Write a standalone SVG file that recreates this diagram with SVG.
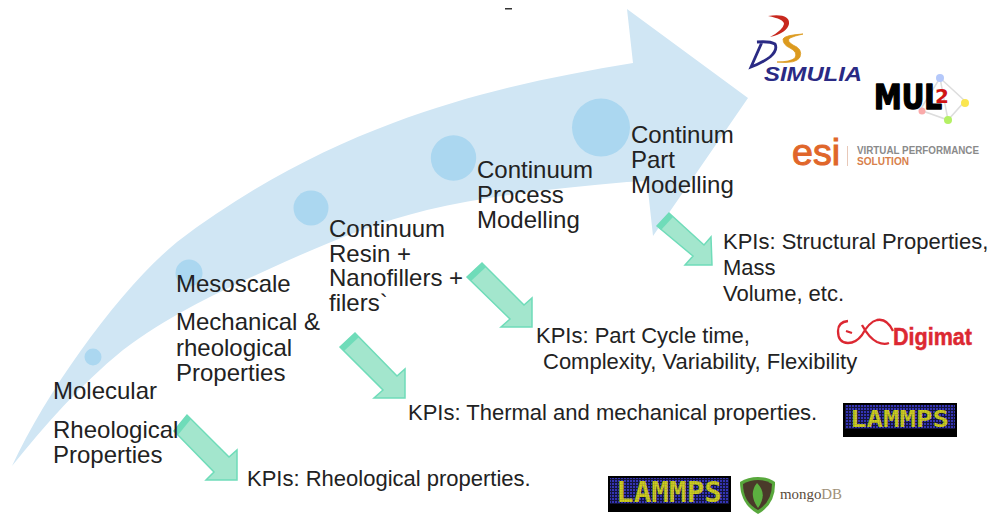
<svg xmlns="http://www.w3.org/2000/svg" width="992" height="514" viewBox="0 0 992 514">
<style>
.t{font-family:"Liberation Sans",Arial,sans-serif;font-size:24px;fill:#222}
.k{font-family:"Liberation Sans",Arial,sans-serif;font-size:22px;fill:#222}
.dot{fill:#abd7f0}
.ga{fill:#a3e6cd;stroke:#6fdcb9;stroke-width:1.5}
.band{fill:#6fdcb9}
.lt{font-family:"DejaVu Sans Mono","Liberation Mono",monospace;font-weight:bold;fill:url(#ledy)}
</style>
<defs>
<pattern id="led" width="3" height="3" patternUnits="userSpaceOnUse"><rect width="3" height="3" fill="#14143c"/><rect width="2" height="2" fill="#3434b4"/></pattern>
<pattern id="ledy" width="2.5" height="2.5" patternUnits="userSpaceOnUse"><rect width="2.5" height="2.5" fill="#a0a028"/><rect width="2" height="2" fill="#d2d21e"/></pattern>
</defs>
<rect width="992" height="514" fill="#fff"/>
<g id="connectors">
<path d="M12 466C50 385 122 287 177 242C245 190 320 150 393 123C473 93 553 76 633 63L627 9L748 98L653 236L647 181L627 182C560 188 490 195 427 210C370 224 315 248 267 270C215 294 170 315 123 350C80 385 45 425 12 466Z" fill="#d0e6f4"/>
<rect x="505" y="8" width="7" height="1.5" fill="#333"/>
<path class="ga" d="M174 431L187 415L229 457L237 450L237 480L206 480L214 472Z"/><path class="band" d="M174 431L187 415L191 419L178 435Z"/>
<path class="ga" d="M340 347L355 333L397 376L405 369L405 398L374 398L383 390Z"/><path class="band" d="M340 347L355 333L359 337L344 351Z"/>
<path class="ga" d="M467 277L482 263L524 305L532 298L532 327L501 327L510 319Z"/><path class="band" d="M467 277L482 263L486 267L471 281Z"/>
<path class="ga" d="M657 226L669 213L704 245L711 237L712 265L685 265L693 256Z"/><path class="band" d="M657 226L669 213L673 217L661 230Z"/>
</g>
<g id="node-molecular"><circle class="dot" cx="93" cy="357" r="8.5"/>
<text class="t" x="53" y="399">Molecular</text><text class="t" x="53" y="438">Rheological</text><text class="t" x="53" y="463">Properties</text></g>
<g id="node-mesoscale"><circle class="dot" cx="189" cy="273" r="13.5"/>
<text class="t" x="176" y="292">Mesoscale</text><text class="t" x="176" y="330">Mechanical &amp;</text><text class="t" x="176" y="356">rheological</text><text class="t" x="176" y="381">Properties</text></g>
<g id="node-resin"><circle class="dot" cx="311" cy="208" r="17.5"/>
<text class="t" x="329" y="237">Continuum</text><text class="t" x="329" y="262">Resin +</text><text class="t" x="329" y="286">Nanofillers +</text><text class="t" x="329" y="311">filers`</text></g>
<g id="node-process"><circle class="dot" cx="453.500" cy="158" r="22.700"/>
<text class="t" x="477" y="178">Continuum</text><text class="t" x="477" y="203">Process</text><text class="t" x="477" y="228">Modelling</text></g>
<g id="node-part"><circle class="dot" cx="601" cy="127.500" r="29"/>
<text class="t" x="631" y="143">Continum</text><text class="t" x="631" y="168">Part</text><text class="t" x="631" y="193">Modelling</text></g>
<g id="kpi-labels">
<text class="k" x="247" y="486">KPIs: Rheological properties.</text>
<text class="k" x="408" y="420">KPIs: Thermal and mechanical properties.</text>
<text class="k" x="536" y="343">KPIs: Part Cycle time,</text><text class="k" x="543" y="369">Complexity, Variability, Flexibility</text>
<text class="k" x="723" y="249">KPIs: Structural Properties,</text><text class="k" x="723" y="275">Mass</text><text class="k" x="723" y="301">Volume, etc.</text>
</g>
<g id="logo-simulia">
<path d="M768 16Q790 13 789 24Q787 33 770 37Q783 30 784 24Q784 19 768 16Z" fill="#c8281e"/>
<path d="M751 67L762 42L757 42Q770 41 775 44Q778 50 770 57Q762 63 751 67Z" fill="none" stroke="#2a2a84" stroke-width="2.800"/>
<path d="M803 34Q785 35 783 39Q783 45 790 48Q798 52 795 58Q790 62 777 62Q797 64 800 57Q803 49 793 45Q786 41 790 38Q794 36 803 34Z" fill="#dc9a1e" stroke="#dc9a1e" stroke-width="0.800"/>
<text x="764" y="81" font-family="Liberation Sans,sans-serif" font-weight="bold" font-style="italic" font-size="21" textLength="98" lengthAdjust="spacingAndGlyphs" fill="#2a2a84">SIMULIA</text>
</g>
<g id="logo-mul2">
<path d="M940 78L965 101L948 120L920 110Z" fill="none" stroke="#ddd" stroke-width="1.500"/><path d="M940 78L948 120" stroke="#ddd" stroke-width="1.500"/>
<circle cx="940" cy="78" r="4" fill="#b4c8fa"/><circle cx="965" cy="103" r="4" fill="#fae650"/><circle cx="948" cy="120" r="4" fill="#b4f064"/><circle cx="922" cy="111" r="3.500" fill="#faaaaa"/>
<text x="874" y="109" font-family="DejaVu Sans,sans-serif" font-weight="bold" font-size="33" stroke="#000" stroke-width="1.500" stroke-linejoin="round" textLength="68" lengthAdjust="spacingAndGlyphs" fill="#000">MUL</text>
<text x="935" y="103" font-family="DejaVu Sans,sans-serif" font-weight="bold" font-size="20" fill="#d01414">2</text>
</g>
<g id="logo-esi">
<text x="792" y="165" font-family="Liberation Sans,sans-serif" font-size="36" stroke="#e0662a" stroke-width="1" textLength="48" lengthAdjust="spacingAndGlyphs" fill="#e0662a">esi</text>
<rect x="847" y="146" width="1" height="20" fill="#e8c8b8"/>
<text x="857" y="154" font-family="Liberation Sans,sans-serif" font-weight="bold" font-size="10" textLength="122" lengthAdjust="spacingAndGlyphs" fill="#8a8a8a">VIRTUAL PERFORMANCE</text>
<text x="857" y="165" font-family="Liberation Sans,sans-serif" font-weight="bold" font-size="10.500" textLength="52" lengthAdjust="spacingAndGlyphs" fill="#d8804a">SOLUTION</text>
</g>
<g id="logo-digimat">
<path d="M848 321Q838 322 838 331Q838 343 848 343Q856 343 862 335Q869 322 877 320Q887 318 893 331M862 325Q869 338 877 342Q884 345 889 343M846 331L852 333" fill="none" stroke="#dc2832" stroke-width="2.300"/>
<text x="893" y="345" font-family="Liberation Sans,sans-serif" font-weight="bold" font-size="24" stroke="#dc2832" stroke-width="0.500" textLength="79" lengthAdjust="spacingAndGlyphs" fill="#dc2832">Digimat</text>
</g>
<g id="logo-lammps-1"><rect x="843" y="403" width="114" height="34" fill="#000"/><rect x="845" y="405" width="110" height="24" fill="url(#led)"/>
<text class="lt" x="850" y="427" font-size="23" textLength="99" lengthAdjust="spacingAndGlyphs">LAMMPS</text></g>
<g id="logo-lammps-2"><rect x="608" y="476" width="123" height="36" fill="#000"/><rect x="610" y="478" width="119" height="26" fill="url(#led)"/><text class="lt" x="616" y="502" font-size="29" textLength="106" lengthAdjust="spacingAndGlyphs">LAMMPS</text></g>
<g id="logo-mongodb">
<path d="M740 482Q748 477 758 477Q768 477 775 482Q776 504 758 514Q740 504 740 482Z" fill="#58a83c"/>
<path d="M743 484Q750 480 758 480Q766 480 772 484Q772 502 758 510Q743 502 743 484Z" fill="#4a3a2a"/>
<path d="M757 483Q768 494 758 508Q748 494 757 483Z" fill="#5cb040"/>
<text x="780" y="499" font-family="Liberation Serif,serif" font-size="15" textLength="62" lengthAdjust="spacingAndGlyphs" fill="#5a4a3a">mongo<tspan fill="#a09078">DB</tspan></text>
</g>
</svg>
